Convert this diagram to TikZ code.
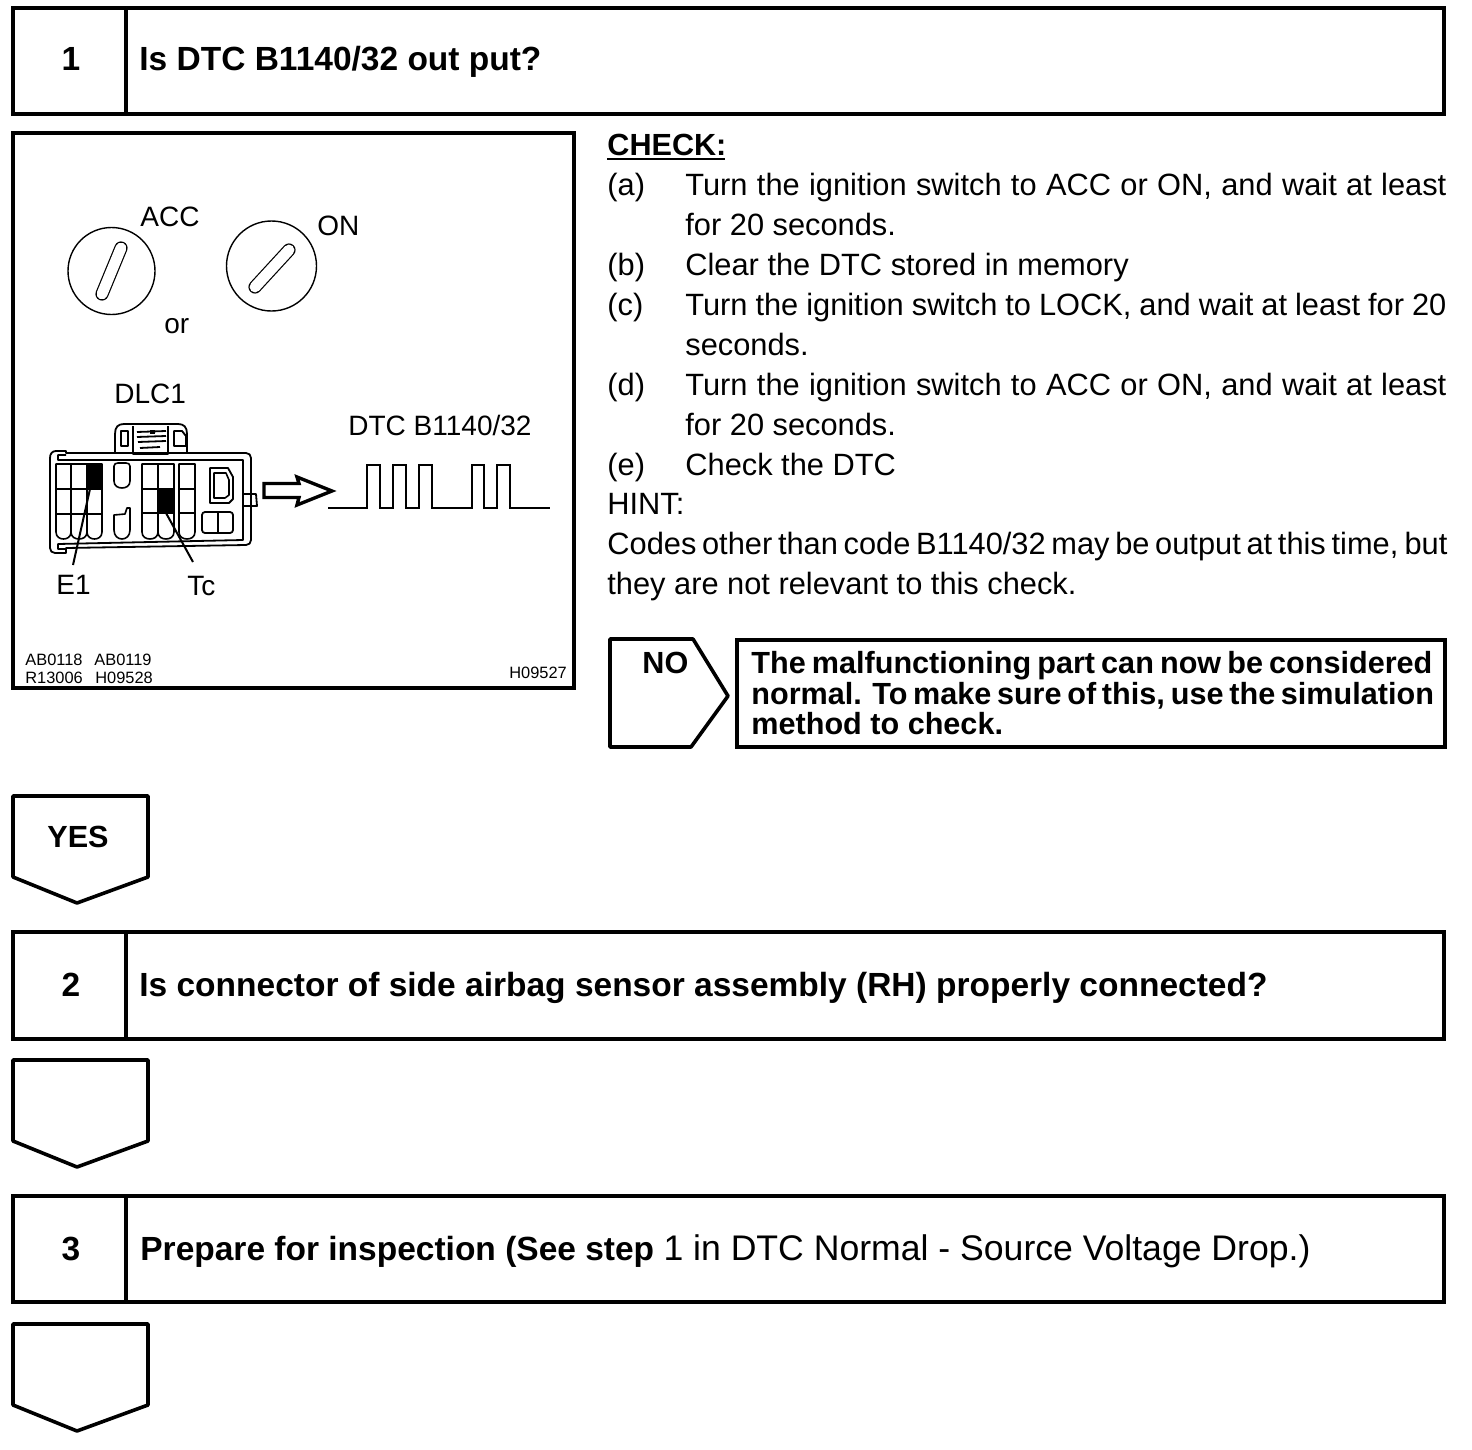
\documentclass[tikz,border=0pt]{standalone}
\usepackage{fontspec}
\setmainfont{Liberation Sans}
\tikzset{
  frame/.style={draw=black,line width=1.8pt,line join=miter,fill=white},
  pent/.style={draw=black,line width=1.8pt,line join=round,fill=white},
  body/.style={anchor=base west,inner sep=0pt,font=\fontsize{15.4}{18}\selectfont},
  head/.style={anchor=base west,inner sep=0pt,font=\fontsize{16.75}{20}\selectfont\bfseries},
  num/.style={anchor=base,inner sep=0pt,font=\fontsize{16.75}{20}\selectfont\bfseries},
  nob/.style={anchor=base west,inner sep=0pt,font=\fontsize{15.3}{18}\selectfont\bfseries},
  lab/.style={anchor=base west,inner sep=0pt,font=\fontsize{14}{16}\selectfont},
  tiny/.style={anchor=base west,inner sep=0pt,font=\fontsize{8.2}{10}\selectfont},
  dial/.style={draw=black,line width=0.7pt},
  slotout/.style={draw=black,line cap=round,line width=6.6pt},
  slotin/.style={draw=white,line cap=round,line width=5.4pt},
  med/.style={draw=black,line width=0.9pt,line join=round},
  cell/.style={draw=black,line width=0.8pt,line join=round},
  heavy/.style={draw=black,line width=1.4pt,line join=miter},
}
\newcommand{\fit}[2]{\makebox[\dimexpr #1pt/2\relax][s]{#2}}
\begin{document}
\begin{tikzpicture}[x=0.5pt,y=-0.5pt]
\useasboundingbox (0,0) rectangle (1472,1450);
% step boxes
\draw[frame] (13,8) rectangle (1444,114);
\draw[frame] (126,8) -- (126,114);
\node[num] (n1) at (71,71) {1};
\node[head] (t1) at (139,71) {Is DTC B1140/32 out put?};
\draw[frame] (13,932) rectangle (1444,1039);
\draw[frame] (126,932) -- (126,1039);
\node[num] (n2) at (71,996) {2};
\node[head] (t2) at (139,996) {Is connector of side airbag sensor assembly (RH) properly connected?};
\draw[frame] (13,1196) rectangle (1444,1302);
\draw[frame] (126,1196) -- (126,1302);
\node[num] (n3) at (71,1260) {3};
\node[head] (t3) at (140,1260) {Prepare for inspection (See step {\mdseries\fontsize{17.8}{20}\selectfont 1 in DTC Normal - Source Voltage Drop.)}};
% illustration frame
\draw[frame] (13,133) rectangle (574,688);
% ignition switches
\draw[dial] (111.5,271) circle [radius=43.5];
\draw[dial] (271.5,266) circle [radius=45];
\draw[slotout] (121,248) -- (102,294);
\draw[slotin] (121,248) -- (102,294);
\draw[slotout] (289,250) -- (255,287);
\draw[slotin] (289,250) -- (255,287);
\node[lab] (acc) at (140,226) {ACC};
\node[lab] (on) at (317,235) {ON};
\node[lab] (or) at (164,333) {or};
\node[lab] (dlc) at (114,403) {DLC1};
\node[lab] (dtc) at (348,435) {DTC B1140/32};
\node[lab] (e1) at (56,594) {E1};
\node[lab] (tc) at (187,595) {Tc};
% connector DLC1 housing
\draw[med] (50,458) .. controls (50,454) and (52,451) .. (56,451) -- (66,451) -- (66,453) -- (246,453) .. controls (249,453) and (251,455) .. (251,458) -- (251,540) .. controls (251,543) and (249,545) .. (246,545) -- (66,548) -- (66,553) -- (55,553) .. controls (52,553) and (50,551) .. (50,548) -- cycle;
\draw[med] (66,455) -- (58,455) -- (58,460) -- (243,460) -- (243,540) -- (58,544) -- (58,549) -- (66,549);
% latch
\draw[med] (115,452) -- (115,434) .. controls (115,427) and (118,424) .. (124,424) -- (178,424) .. controls (184,424) and (187,427) .. (187,434) -- (187,452);
\draw[med] (133,426) -- (133,454) -- (168,454) -- (168,426);
\draw[med] (121,431) -- (128,431) -- (128,446) -- (121,446) -- cycle;
\draw[med] (174,431) -- (182,431) -- (186,436) -- (186,446) -- (174,446) -- cycle;
\draw[med] (137,432) -- (166,431) (137,437) -- (166,436) (138,442) -- (166,441) (140,448) -- (160,447);
\fill[black] (150,430) rectangle (155,434);
% pin cells
\foreach \xa/\xb in {56/71,71/87,87/102,142/158,158/174,179/195}{
  \draw[cell] (\xa,464) -- (\xb,464) -- (\xb,532) .. controls (\xb,537) and (\xb-4,539) .. (\xb/2+\xa/2,539) .. controls (\xa+4,539) and (\xa,537) .. (\xa,532) -- cycle;
}
\draw[cell] (56,489) -- (102,489) (56,514) -- (102,514);
\draw[cell] (142,489) -- (174,489) (142,513) -- (174,513) (179,489) -- (195,489) (179,513) -- (195,513);
\fill[black] (87,464) rectangle (102,489);
\fill[black] (158,489) rectangle (174,513);
% centre pins
\draw[cell] (114,466) .. controls (114,464) and (116,463) .. (118,463) -- (126,463) .. controls (128,463) and (130,464) .. (130,466) -- (130,481) .. controls (130,486) and (126,488) .. (122,488) .. controls (118,488) and (114,486) .. (114,481) -- cycle;
\draw[cell] (114,515) -- (125,514) -- (127,508) -- (130,508) -- (130,530) .. controls (130,536) and (126,539) .. (122,539) .. controls (118,539) and (114,536) .. (114,530) -- cycle;
% right details
\draw[med] (210,468) -- (228,468) -- (233,477) -- (233,499) -- (229,503) -- (210,503) -- cycle;
\draw[cell] (214,473) -- (226,473) -- (229,480) -- (229,495) -- (225,498) -- (214,498) -- cycle;
\draw[med,rounded corners=1.5pt] (202,512) rectangle (233,533);
\draw[cell] (218,512) -- (218,533);
\draw[med] (243,494) -- (256,494) -- (257,506) -- (243,506);
% leader lines
\coordinate (e1end) at (73,565);
\coordinate (tcend) at (193,562);
\coordinate (e1pin) at (90,489);
\coordinate (tcpin) at (166,513);
\draw[med,line width=1pt] (e1pin) -- (e1end);
\draw[med,line width=1pt] (tcpin) -- (tcend);
% hollow arrow
\draw[heavy,line width=1.7pt] (264,483.5) -- (299,483.5) -- (297,477) -- (332,491) -- (297,505) -- (299,497.5) -- (264,497.5) -- cycle;
% pulse train
\draw[heavy] (328,508) -- (367,508) -- (367,465) -- (380,465) -- (380,508) -- (393,508) -- (393,465) -- (406,465) -- (406,508) -- (419,508) -- (419,465) -- (432,465) -- (432,508) -- (472,508) -- (472,465) -- (484,465) -- (484,508) -- (497,508) -- (497,465) -- (510,465) -- (510,508) -- (550,508);
% tiny codes
\node[tiny] (c1) at (25,665) {AB0118};
\node[tiny] (c2) at (94,665) {AB0119};
\node[tiny] (c3) at (25,683) {R13006};
\node[tiny] (c4) at (95,683) {H09528};
\node[tiny] (c5) at (509,678) {H09527};
% check text
\node[nob] (chk) at (607,155.5) {CHECK:};
\draw[draw=black,line width=1pt] (607,158.5) -- (725,158.5);
\node[body] (a) at (607,195) {(a)};
\node[body] (al1) at (685,195) {\fit{761}{Turn the ignition switch to ACC or ON, and wait at least}};
\node[body] (al2) at (685,235) {for 20 seconds.};
\node[body] (b) at (607,275) {(b)};
\node[body] (bl) at (685,275) {Clear the DTC stored in memory};
\node[body] (c) at (607,315) {(c)};
\node[body] (cl1) at (685,315) {\fit{761}{Turn the ignition switch to LOCK, and wait at least for 20}};
\node[body] (cl2) at (685,355) {seconds.};
\node[body] (d) at (607,395) {(d)};
\node[body] (dl1) at (685,395) {\fit{761}{Turn the ignition switch to ACC or ON, and wait at least}};
\node[body] (dl2) at (685,435) {for 20 seconds.};
\node[body] (e) at (607,475) {(e)};
\node[body] (el) at (685,475) {Check the DTC};
\node[body] (hint) at (607,514) {HINT:};
\node[body] (h1) at (607,554) {\fit{840}{Codes other than code B1140/32 may be output at this time, but}};
\node[body] (h2) at (607,594) {they are not relevant to this check.};
% NO branch
\draw[pent] (610,639) -- (693,639) -- (728,696) -- (691,747) -- (610,747) -- cycle;
\node[nob] (no) at (642,673) {NO};
\draw[frame] (737,640) rectangle (1445,747);
\node[nob] (m1) at (751,673) {\fit{681}{The malfunctioning part can now be considered}};
\node[nob] (m2) at (751,704) {\fit{681}{normal. To make sure of this, use the simulation}};
\node[nob] (m3) at (751,734) {method to check.};
% down pentagons
\draw[pent] (13,796) -- (148,796) -- (148,877) -- (77,903) -- (13,877) -- cycle;
\node[nob] (yes) at (47,847) {YES};
\draw[pent] (13,1060) -- (148,1060) -- (148,1141) -- (77,1167) -- (13,1141) -- cycle;
\draw[pent] (13,1324) -- (148,1324) -- (148,1405) -- (77,1431) -- (13,1405) -- cycle;
\end{tikzpicture}
\end{document}
